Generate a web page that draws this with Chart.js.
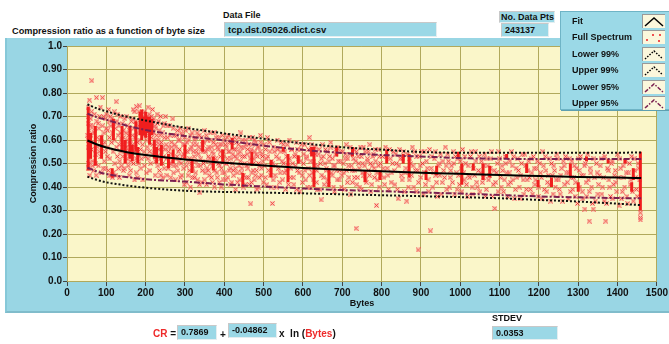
<!DOCTYPE html>
<html>
<head>
<meta charset="utf-8">
<script src="https://cdn.jsdelivr.net/npm/chart.js@4"></script>
<style>
  body { margin: 0; width: 669px; height: 344px; overflow: hidden; background: #fff; position: relative;
         font: bold 9px "Liberation Sans", Arial, sans-serif; color: #111; }
  .abs { position: absolute; white-space: nowrap; }
  .box { position: absolute; background: #9bd8e6; border-top: 1px solid #c8c8c8; border-left: 1px solid #c8c8c8;
         border-bottom: 1px solid #e4eef0; border-right: 1px solid #e4eef0; box-sizing: border-box; padding-left: 3px; }
  #panel { position: absolute; left: 5px; top: 38px; width: 664px; height: 275px; background: #99d6e4;
           border-left: 2px solid #86c8d8; border-bottom: 2px solid #80bccb; box-sizing: border-box; }
  #chart { position: absolute; left: 0; top: 0; }
  #legend { position: absolute; left: 560px; top: 11px; width: 115px; height: 99px; background: #9bd9e7;
            border: 1px solid #6fb4c6; box-shadow: 1px 1px 0 #5e9fb0; box-sizing: border-box; z-index: 2; }
  #legend .row { position: absolute; left: 11px; height: 14px; line-height: 14px; }
  #legend svg { position: absolute; left: 70px; top: 0; background: #fbf7dc; border-top: 1px solid #999; border-left: 1px solid #999; }
  .red { color: #ee2a2a; }
</style>
</head>
<body>
<div class="abs" style="left:12px; top:25px; font-size:9.2px; line-height:12px;">Compression ratio as a function of byte size</div>
<div class="abs" style="left:223px; top:9px; line-height:12px;">Data File</div>
<div class="box" style="left:224px; top:22px; width:213px; height:15px; line-height:13px; font-size:9.5px;">tcp.dst.05026.dict.csv</div>
<div class="box" style="left:499px; top:11px; width:56px; height:12px; line-height:10px; padding-left:1px;">No. Data Pts</div>
<div class="box" style="left:501px; top:23px; width:48px; height:14px; line-height:12px;">243137</div>

<div id="panel"></div>
<canvas id="chart" width="669" height="344"></canvas>

<div id="legend">
  <div class="row" style="top:2px;">Fit<svg width="22" height="13"><polyline points="2,11 11,3 20,11" fill="none" stroke="#000" stroke-width="1.5"/></svg></div>
  <div class="row" style="top:18px;">Full Spectrum<svg width="22" height="13"><g stroke="#f05050" stroke-width="1"><path d="M3,8 l2,2 M5,8 l-2,2 M9,3 l2,2 M11,3 l-2,2 M16,3 l2,2 M18,3 l-2,2 M15,9 l2,2 M17,9 l-2,2"/></g></svg></div>
  <div class="row" style="top:34.5px;">Lower 99%<svg width="22" height="13"><polyline points="2,11 11,3 20,11" fill="none" stroke="#000" stroke-width="1.5" stroke-dasharray="1.5,1.5"/></svg></div>
  <div class="row" style="top:51px;">Upper 99%<svg width="22" height="13"><polyline points="2,11 11,3 20,11" fill="none" stroke="#000" stroke-width="1.5" stroke-dasharray="1.5,1.5"/></svg></div>
  <div class="row" style="top:67.5px;">Lower 95%<svg width="22" height="13"><polyline points="2,11 11,3 20,11" fill="none" stroke="#7a2050" stroke-width="1.5" stroke-dasharray="4,1.5,1.5,1.5"/></svg></div>
  <div class="row" style="top:84px;">Upper 95%<svg width="22" height="13"><polyline points="2,11 11,3 20,11" fill="none" stroke="#7a2050" stroke-width="1.5" stroke-dasharray="4,1.5,1.5,1.5"/></svg></div>
</div>

<div class="abs red" style="left:153px; top:328px; line-height:12px; font-size:10px;">CR <span style="color:#111">=</span></div>
<div class="box" style="left:177px; top:325px; width:40px; height:15px; line-height:13px;">0.7869</div>
<div class="abs" style="left:220px; top:329px; line-height:12px; font-size:10px;">+</div>
<div class="box" style="left:228px; top:323px; width:49px; height:15px; line-height:13px;">-0.04862</div>
<div class="abs" style="left:279px; top:328px; line-height:12px; font-size:10px;">x &nbsp;ln (<span class="red">Bytes</span>)</div>
<div class="abs" style="left:492px; top:312px; line-height:12px;">STDEV</div>
<div class="box" style="left:492px; top:326px; width:66px; height:14px; line-height:12px;">0.0353</div>

<script>
// tick labels
const xTickLabels = ["0", "100", "200", "300", "400", "500", "600", "700", "800", "900", "1000", "1100", "1200", "1300", "1400", "1500"];
const yTickLabels = ["0.0", "0.10", "0.20", "0.30", "0.40", "0.50", "0.60", "0.70", "0.80", "0.90", "1.0"];
const xAxisTitle = "Bytes";
const yAxisTitle = "Compression ratio";

// fit curve and confidence bands
const bandBytes = [52, 75, 100, 150, 200, 300, 400, 500, 600, 700, 800, 900, 1000, 1100, 1200, 1300, 1400, 1460];
const fitRatio  = [0.598, 0.582, 0.568, 0.549, 0.536, 0.517, 0.503, 0.491, 0.481, 0.473, 0.467, 0.461, 0.456, 0.451, 0.447, 0.443, 0.440, 0.438];
const upper99   = [0.752, 0.735, 0.722, 0.700, 0.683, 0.652, 0.628, 0.605, 0.586, 0.569, 0.559, 0.549, 0.546, 0.546, 0.546, 0.546, 0.546, 0.547];
const upper95   = [0.712, 0.697, 0.686, 0.662, 0.643, 0.617, 0.598, 0.576, 0.558, 0.545, 0.536, 0.530, 0.523, 0.520, 0.519, 0.519, 0.519, 0.519];
const lower95   = [0.482, 0.467, 0.455, 0.443, 0.433, 0.423, 0.411, 0.402, 0.394, 0.387, 0.382, 0.377, 0.372, 0.366, 0.360, 0.356, 0.353, 0.352];
const lower99   = [0.444, 0.431, 0.420, 0.407, 0.397, 0.384, 0.379, 0.376, 0.373, 0.369, 0.365, 0.361, 0.357, 0.352, 0.345, 0.338, 0.329, 0.323];

// full spectrum samples [bytes, ratio]
const spectrum50to250 = [
  [54,0.74],[55,0.70],[54,0.67],[56,0.64],[55,0.60],[54,0.57],[56,0.53],[55,0.50],[54,0.48],[57,0.77],[58,0.45],[60,0.69],[61,0.62],[62,0.56],[63,0.852],[64,0.51],[66,0.66],[67,0.59],[68,0.47],[70,0.71],[71,0.64],[72,0.54],[73,0.50],[75,0.78],[76,0.68],[77,0.61],[78,0.57],[80,0.49],[81,0.65],[83,0.70],[84,0.60],[86,0.53],[88,0.46],[90,0.78],[90,0.66],[91,0.58],[93,0.70],[94,0.63],[95,0.51],[97,0.69],[98,0.55],[99,0.48],
  [53,0.62],[57,0.58],[59,0.66],[62,0.72],[65,0.49],[69,0.63],[74,0.45],[79,0.67],[82,0.55],[85,0.74],[87,0.61],[92,0.48],[96,0.59],
  [101,0.71],[103,0.64],[104,0.57],[105,0.47],[107,0.68],[108,0.61],[109,0.52],[110,0.70],[111,0.66],[112,0.45],[113,0.59],[114,0.69],[115,0.44],[116,0.63],[117,0.55],[118,0.46],[119,0.67],[120,0.72],[121,0.60],[122,0.50],[123,0.65],[124,0.45],[125,0.763],[126,0.57],[127,0.68],[128,0.53],[130,0.62],[131,0.48],[132,0.66],[133,0.58],[134,0.51],[135,0.70],[136,0.63],[137,0.55],[138,0.60],[139,0.49],[140,0.67],[141,0.57],[142,0.53],[143,0.64],[144,0.61],[145,0.48],[146,0.58],[147,0.69],[148,0.55],[149,0.51],
  [100,0.65],[102,0.53],[106,0.73],[109,0.45],[129,0.71],[133,0.44],[143,0.47],
  [150,0.63],[151,0.57],[152,0.52],[153,0.60],[154,0.66],[155,0.54],[156,0.49],[157,0.62],[158,0.58],[159,0.55],[160,0.64],[161,0.51],[162,0.60],[163,0.56],[164,0.68],[165,0.53],[166,0.62],[167,0.58],[168,0.73],[169,0.50],[170,0.65],[171,0.55],[172,0.43],[173,0.61],[174,0.57],[175,0.68],[176,0.52],[177,0.742],[178,0.63],[179,0.59],[180,0.44],[181,0.54],[182,0.66],[183,0.50],[184,0.745],[185,0.60],[186,0.70],[187,0.56],[188,0.67],[189,0.52],[190,0.64],[191,0.71],[192,0.58],[193,0.43],[194,0.69],[195,0.62],[196,0.55],[197,0.66],[198,0.72],[199,0.53],
  [152,0.70],[158,0.45],[162,0.47],[167,0.69],[171,0.72],[176,0.46],[183,0.72],[188,0.48],[193,0.65],[197,0.49],
  [200,0.68],[201,0.60],[202,0.64],[203,0.70],[204,0.57],[205,0.66],[206,0.52],[207,0.69],[208,0.62],[209,0.71],[210,0.55],[211,0.67],[212,0.64],[213,0.50],[214,0.70],[215,0.61],[216,0.66],[217,0.58],[218,0.68],[219,0.54],[220,0.63],[221,0.69],[222,0.56],[223,0.66],[224,0.60],[225,0.51],[226,0.65],[227,0.58],[228,0.62],[229,0.53],[230,0.67],[231,0.49],[232,0.60],[233,0.56],[234,0.64],[235,0.47],[236,0.58],[237,0.62],[238,0.52],[239,0.45],[240,0.59],[241,0.55],[242,0.63],[243,0.50],[244,0.57],[245,0.66],[246,0.53],[247,0.48],[248,0.61],[249,0.56],
  [202,0.46],[206,0.74],[211,0.47],[217,0.73],[224,0.45],[229,0.71],[233,0.68],[238,0.70],[244,0.44],[247,0.67]
];
const spectrum250to500 = [
  [251,0.70],[253,0.52],[255,0.61],[257,0.48],[259,0.57],[261,0.66],[263,0.50],[265,0.59],[267,0.54],[269,0.69],[271,0.46],[273,0.62],[275,0.52],[277,0.57],[279,0.49],[281,0.64],[283,0.55],[285,0.51],[287,0.60],[289,0.44],[291,0.63],[293,0.53],[295,0.58],[297,0.48],[299,0.61],
  [252,0.58],[254,0.45],[256,0.66],[258,0.55],[260,0.50],[262,0.62],[264,0.44],[266,0.57],[268,0.51],[270,0.65],[272,0.49],[274,0.58],[276,0.43],[278,0.62],[280,0.53],[282,0.47],[284,0.60],[286,0.56],[288,0.65],[290,0.50],[292,0.45],[294,0.62],[296,0.54],[298,0.41],
  [301,0.55],[303,0.42],[305,0.59],[307,0.51],[309,0.65],[311,0.47],[313,0.56],[315,0.62],[317,0.50],[319,0.44],[321,0.58],[323,0.53],[325,0.60],[327,0.46],[329,0.55],[331,0.63],[333,0.49],[335,0.57],[337,0.41],[338,0.376],[340,0.52],[342,0.61],[344,0.47],[346,0.55],[348,0.59],[350,0.43],[352,0.51],[354,0.62],[356,0.48],[358,0.56],[360,0.53],[362,0.45],[364,0.60],[366,0.50],[368,0.57],[370,0.42],[372,0.54],[374,0.63],[376,0.47],[378,0.58],[380,0.51],[382,0.44],[384,0.56],[386,0.61],[388,0.49],[390,0.53],[392,0.40],[394,0.58],[396,0.46],[398,0.55],
  [300,0.58],[302,0.64],[304,0.49],[306,0.55],[308,0.45],[310,0.60],[312,0.52],[314,0.40],[316,0.57],[318,0.63],[320,0.48],[322,0.55],[324,0.44],[326,0.61],[328,0.51],[330,0.58],[332,0.43],[334,0.54],[336,0.62],[339,0.49],[341,0.56],[343,0.42],[345,0.58],[347,0.50],[349,0.64],[351,0.46],[353,0.55],[355,0.41],[357,0.60],[359,0.47],[361,0.57],[363,0.52],[365,0.63],[367,0.44],[369,0.55],[371,0.49],[373,0.59],[375,0.40],[377,0.52],[379,0.61],[381,0.46],[383,0.57],[385,0.50],[387,0.42],[389,0.58],[391,0.55],[393,0.48],[395,0.62],[397,0.43],[399,0.53],
  [400,0.60],[402,0.50],[404,0.43],[406,0.57],[408,0.52],[410,0.62],[412,0.47],[414,0.55],[416,0.41],[418,0.59],[420,0.50],[422,0.54],[424,0.45],[426,0.61],[428,0.48],[430,0.56],[432,0.52],[434,0.42],[436,0.58],[438,0.49],[440,0.55],[442,0.63],[444,0.46],[446,0.53],[448,0.40],[450,0.57],[452,0.50],[454,0.60],[456,0.44],[458,0.54],[460,0.48],[462,0.58],[464,0.41],[466,0.52],[467,0.328],[468,0.56],[470,0.46],[472,0.61],[474,0.50],[476,0.43],[478,0.55],[480,0.59],[482,0.47],[484,0.53],[486,0.40],[488,0.57],[490,0.49],[492,0.62],[494,0.45],[496,0.54],[498,0.51],
  [401,0.46],[403,0.58],[405,0.50],[407,0.61],[409,0.44],[411,0.55],[413,0.59],[415,0.48],[417,0.52],[419,0.42],[421,0.60],[423,0.47],[425,0.56],[427,0.53],[429,0.39],[431,0.59],[433,0.46],[435,0.54],[437,0.61],[439,0.43],[441,0.51],[443,0.57],[445,0.48],[447,0.60],[449,0.45],[451,0.53],[453,0.41],[455,0.58],[457,0.49],[459,0.56],[461,0.44],[463,0.61],[465,0.50],[467,0.55],[469,0.42],[471,0.58],[473,0.47],[475,0.52],[477,0.60],[479,0.45],[481,0.54],[483,0.39],[485,0.57],[487,0.50],[489,0.44],[491,0.55],[493,0.59],[495,0.48],[497,0.53],[499,0.42]
];
const spectrum500to800 = [
  [501,0.58],[504,0.44],[507,0.52],[510,0.61],[513,0.47],[516,0.55],[519,0.40],[522,0.33],[523,0.50],[526,0.57],[529,0.45],[532,0.53],[535,0.60],[538,0.48],[541,0.42],[544,0.55],[547,0.51],[550,0.58],[553,0.46],[556,0.39],[559,0.53],[562,0.49],[565,0.60],[568,0.44],[571,0.56],[574,0.50],[577,0.41],[580,0.54],[583,0.59],[586,0.47],[589,0.52],[592,0.38],[595,0.56],[598,0.45],
  [502,0.49],[505,0.56],[508,0.41],[511,0.53],[514,0.59],[517,0.45],[520,0.51],[524,0.43],[527,0.55],[530,0.49],[533,0.40],[536,0.56],[539,0.52],[542,0.46],[545,0.59],[548,0.43],[551,0.50],[554,0.55],[557,0.47],[560,0.58],[563,0.41],[566,0.52],[569,0.48],[572,0.56],[575,0.44],[578,0.53],[581,0.49],[584,0.39],[587,0.56],[590,0.46],[593,0.51],[596,0.58],[599,0.42],
  [601,0.50],[604,0.58],[607,0.43],[610,0.53],[613,0.48],[616,0.61],[619,0.40],[622,0.55],[625,0.46],[628,0.51],[631,0.57],[634,0.42],[637,0.49],[640,0.54],[643,0.39],[646,0.345],[647,0.52],[650,0.58],[653,0.44],[656,0.50],[659,0.47],[662,0.55],[665,0.41],[668,0.53],[671,0.59],[674,0.45],[677,0.49],[680,0.38],[683,0.54],[686,0.47],[689,0.57],[692,0.43],[695,0.51],[698,0.40],
  [602,0.54],[605,0.47],[608,0.52],[611,0.40],[614,0.56],[617,0.45],[620,0.51],[623,0.58],[626,0.43],[629,0.49],[632,0.54],[635,0.47],[638,0.39],[641,0.56],[644,0.50],[648,0.45],[651,0.53],[654,0.41],[657,0.56],[660,0.48],[663,0.43],[666,0.51],[669,0.57],[672,0.46],[675,0.52],[678,0.40],[681,0.49],[684,0.56],[687,0.43],[690,0.51],[693,0.47],[696,0.55],[699,0.45],
  [701,0.55],[704,0.46],[707,0.52],[710,0.58],[713,0.42],[716,0.49],[719,0.54],[722,0.37],[725,0.47],[728,0.56],[731,0.44],[734,0.51],[735,0.224],[737,0.41],[740,0.53],[743,0.48],[746,0.57],[749,0.39],[752,0.50],[755,0.45],[758,0.55],[761,0.42],[764,0.52],[767,0.47],[770,0.58],[773,0.38],[776,0.49],[779,0.54],[782,0.44],[785,0.51],[787,0.322],[788,0.46],[791,0.56],[794,0.40],[797,0.50],
  [702,0.50],[705,0.39],[708,0.54],[711,0.47],[714,0.52],[717,0.44],[720,0.57],[723,0.49],[726,0.42],[729,0.52],[732,0.47],[736,0.55],[739,0.44],[742,0.50],[745,0.40],[748,0.53],[751,0.46],[754,0.57],[757,0.49],[760,0.43],[763,0.51],[766,0.55],[769,0.45],[772,0.50],[775,0.41],[778,0.53],[781,0.48],[784,0.56],[789,0.43],[792,0.49],[795,0.53],[798,0.45]
];
const spectrum800to1100 = [
  [802,0.53],[806,0.44],[810,0.57],[814,0.48],[818,0.39],[822,0.52],[826,0.46],[830,0.55],[834,0.41],[838,0.50],[842,0.35],[846,0.56],[850,0.45],[854,0.52],[858,0.38],[862,0.48],[864,0.34],[866,0.54],[870,0.43],[874,0.50],[878,0.57],[882,0.40],[886,0.47],[890,0.53],[893,0.132],[894,0.42],[898,0.49],
  [804,0.48],[808,0.41],[812,0.53],[816,0.45],[820,0.56],[824,0.42],[828,0.50],[832,0.47],[836,0.54],[840,0.39],[844,0.49],[848,0.52],[852,0.43],[856,0.55],[860,0.46],[868,0.40],[872,0.52],[876,0.45],[880,0.49],[884,0.55],[888,0.38],[892,0.47],[896,0.53],
  [902,0.55],[906,0.37],[910,0.46],[914,0.51],[918,0.43],[922,0.56],[924,0.213],[926,0.48],[930,0.40],[934,0.52],[938,0.45],[942,0.36],[946,0.50],[950,0.54],[954,0.42],[958,0.47],[962,0.57],[966,0.39],[970,0.51],[974,0.44],[978,0.49],[982,0.55],[986,0.37],[990,0.46],[994,0.52],[998,0.41],
  [900,0.44],[904,0.50],[908,0.55],[912,0.41],[916,0.48],[920,0.38],[928,0.53],[932,0.46],[936,0.55],[940,0.42],[944,0.49],[948,0.45],[952,0.37],[956,0.51],[960,0.44],[964,0.49],[968,0.54],[972,0.40],[976,0.47],[980,0.42],[984,0.50],[988,0.53],[992,0.39],[996,0.45],
  [1002,0.48],[1006,0.56],[1010,0.43],[1014,0.50],[1018,0.36],[1022,0.45],[1026,0.53],[1030,0.40],[1034,0.48],[1038,0.55],[1042,0.42],[1046,0.47],[1050,0.38],[1054,0.51],[1058,0.44],[1062,0.54],[1066,0.39],[1070,0.49],[1074,0.45],[1078,0.52],[1082,0.36],[1086,0.47],[1088,0.309],[1090,0.42],[1094,0.50],[1098,0.55],
  [1000,0.51],[1004,0.38],[1008,0.46],[1012,0.53],[1016,0.41],[1020,0.49],[1024,0.44],[1028,0.55],[1032,0.37],[1036,0.45],[1040,0.51],[1044,0.40],[1048,0.53],[1052,0.46],[1056,0.42],[1060,0.49],[1064,0.36],[1068,0.52],[1072,0.43],[1076,0.48],[1080,0.55],[1084,0.41],[1092,0.46],[1096,0.38]
];
const spectrum1100to1460 = [
  [1102,0.44],[1106,0.49],[1110,0.38],[1114,0.53],[1118,0.46],[1122,0.41],[1126,0.51],[1130,0.55],[1134,0.43],[1138,0.35],[1142,0.48],[1146,0.52],[1150,0.40],[1154,0.45],[1158,0.54],[1162,0.37],[1166,0.49],[1170,0.43],[1174,0.51],[1178,0.39],[1182,0.46],[1186,0.53],[1190,0.41],[1194,0.48],[1198,0.36],
  [1100,0.52],[1104,0.40],[1108,0.47],[1112,0.43],[1116,0.50],[1120,0.36],[1124,0.46],[1128,0.42],[1132,0.49],[1136,0.53],[1140,0.39],[1144,0.44],[1148,0.47],[1152,0.35],[1156,0.50],[1160,0.43],[1164,0.54],[1168,0.39],[1172,0.47],[1176,0.44],[1180,0.52],[1184,0.37],[1188,0.48],[1192,0.43],[1196,0.51],
  [1202,0.50],[1206,0.44],[1210,0.55],[1214,0.39],[1218,0.47],[1222,0.42],[1226,0.52],[1230,0.34],[1234,0.45],[1238,0.49],[1242,0.40],[1246,0.54],[1250,0.43],[1254,0.37],[1258,0.48],[1262,0.51],[1266,0.41],[1270,0.46],[1274,0.35],[1278,0.52],[1282,0.44],[1286,0.39],[1290,0.49],[1294,0.42],[1298,0.33],
  [1200,0.40],[1204,0.46],[1208,0.35],[1212,0.49],[1216,0.53],[1220,0.38],[1224,0.45],[1228,0.41],[1232,0.50],[1236,0.37],[1240,0.47],[1244,0.43],[1248,0.52],[1252,0.39],[1256,0.45],[1260,0.34],[1264,0.49],[1268,0.53],[1272,0.42],[1276,0.46],[1280,0.38],[1284,0.51],[1288,0.44],[1292,0.36],[1296,0.48],
  [1302,0.47],[1306,0.53],[1310,0.38],[1314,0.45],[1317,0.306],[1318,0.50],[1322,0.36],[1326,0.43],[1328,0.255],[1330,0.48],[1334,0.40],[1338,0.306],[1340,0.52],[1344,0.34],[1348,0.46],[1352,0.41],[1356,0.49],[1360,0.37],[1364,0.44],[1368,0.53],[1370,0.255],[1372,0.33],[1376,0.47],[1380,0.40],[1384,0.50],[1388,0.35],[1392,0.45],[1396,0.42],
  [1300,0.52],[1304,0.40],[1308,0.45],[1312,0.35],[1316,0.49],[1320,0.42],[1324,0.54],[1328,0.38],[1332,0.46],[1336,0.33],[1342,0.44],[1346,0.50],[1350,0.37],[1354,0.45],[1358,0.52],[1362,0.40],[1366,0.34],[1374,0.48],[1378,0.43],[1382,0.36],[1386,0.51],[1390,0.41],[1394,0.47],[1398,0.38],
  [1400,0.54],[1404,0.32],[1408,0.48],[1412,0.38],[1416,0.44],[1420,0.51],[1424,0.36],[1428,0.46],[1432,0.41],[1436,0.53],[1440,0.34],[1444,0.47],[1448,0.39],[1452,0.50],[1456,0.43],[1458,0.29],[1458,0.27],[1458,0.26],
  [1402,0.44],[1406,0.52],[1410,0.35],[1414,0.49],[1418,0.40],[1422,0.46],[1426,0.33],[1430,0.50],[1434,0.43],[1438,0.38],[1442,0.52],[1446,0.44],[1450,0.36],[1454,0.48]
];

// dense columns where many samples share one byte size: [bytes, lowRatio, highRatio]
const denseColumns = [
  [54,0.47,0.74],[60,0.52,0.63],[72,0.49,0.66],[88,0.52,0.62],[115,0.44,0.48],[118,0.60,0.69],[140,0.55,0.66],[148,0.50,0.60],
  [160,0.52,0.66],[166,0.51,0.58],[175,0.55,0.68],[180,0.50,0.57],[186,0.62,0.72],[190,0.60,0.73],[195,0.62,0.70],[200,0.61,0.72],
  [205,0.63,0.70],[210,0.58,0.70],[216,0.62,0.69],[222,0.52,0.60],[228,0.50,0.57],[240,0.49,0.58],[258,0.48,0.54],[270,0.50,0.56],
  [300,0.52,0.58],[318,0.46,0.52],[345,0.55,0.60],[372,0.47,0.53],[396,0.50,0.56],[420,0.56,0.61],[447,0.40,0.46],[470,0.49,0.55],
  [519,0.44,0.515],[550,0.55,0.57],[562,0.42,0.54],[588,0.50,0.535],[622,0.53,0.57],[628,0.40,0.57],[666,0.40,0.48],[686,0.53,0.57],
  [726,0.53,0.57],[758,0.42,0.47],[796,0.43,0.47],[813,0.50,0.56],[855,0.50,0.54],[870,0.44,0.54],[913,0.43,0.47],[940,0.45,0.49],
  [995,0.52,0.55],[1004,0.41,0.50],[1033,0.47,0.50],[1058,0.43,0.50],[1075,0.44,0.49],[1118,0.52,0.54],[1169,0.46,0.50],[1198,0.40,0.43],
  [1232,0.40,0.44],[1280,0.44,0.50],[1300,0.38,0.42],[1321,0.51,0.53],[1376,0.50,0.52],[1419,0.50,0.52],[1436,0.38,0.42],[1440,0.43,0.48],
  [1458,0.30,0.55]
];

const spectrum = [...spectrum50to250, ...spectrum250to500, ...spectrum500to800, ...spectrum800to1100, ...spectrum1100to1460];
const curve = (vals) => bandBytes.map((x, i) => ({ x: x, y: vals[i] }));
const columns = denseColumns.flatMap(([x, lo, hi]) => [{ x: x, y: lo }, { x: x, y: hi }, { x: x, y: null }]);

// sample marker: small red x on a faint pink square
const marker = document.createElement("canvas");
marker.width = 5;
marker.height = 5;
(function () {
  const c = marker.getContext("2d");
  c.fillStyle = "rgba(248,160,160,0.4)";
  c.fillRect(0, 0, 5, 5);
  c.strokeStyle = "rgba(238,40,40,0.85)";
  c.lineWidth = 1;
  c.beginPath();
  c.moveTo(0.5, 0.5); c.lineTo(4.5, 4.5);
  c.moveTo(4.5, 0.5); c.lineTo(0.5, 4.5);
  c.stroke();
})();

// yellow plot area
const plotBackground = {
  id: "plotBackground",
  beforeDraw(chart) {
    const { ctx, chartArea: a } = chart;
    ctx.save();
    ctx.fillStyle = "#faf6c9";
    ctx.fillRect(a.left, a.top, a.width, a.height);
    ctx.restore();
  },
};

const tickFont = { family: "Liberation Sans", size: 10, weight: "bold" };
const titleFont = { family: "Liberation Sans", size: 9, weight: "bold" };

new Chart(document.getElementById("chart"), {
  type: "scatter",
  data: {
    datasets: [
      { label: "Fit", type: "line", data: curve(fitRatio), borderColor: "#000", borderWidth: 2,
        pointRadius: 0, cubicInterpolationMode: "monotone", order: 0 },
      { label: "Lower 99%", type: "line", data: curve(lower99), borderColor: "#111", borderWidth: 2,
        borderDash: [2, 2], pointRadius: 0, cubicInterpolationMode: "monotone", order: 1 },
      { label: "Upper 99%", type: "line", data: curve(upper99), borderColor: "#111", borderWidth: 2,
        borderDash: [2, 2], pointRadius: 0, cubicInterpolationMode: "monotone", order: 1 },
      { label: "Lower 95%", type: "line", data: curve(lower95), borderColor: "#7a2050", borderWidth: 2,
        borderDash: [6, 2, 2, 2], pointRadius: 0, cubicInterpolationMode: "monotone", order: 1 },
      { label: "Upper 95%", type: "line", data: curve(upper95), borderColor: "#7a2050", borderWidth: 2,
        borderDash: [6, 2, 2, 2], pointRadius: 0, cubicInterpolationMode: "monotone", order: 1 },
      { label: "Full Spectrum columns", type: "line", data: columns, borderColor: "#f01e1e", borderWidth: 3,
        borderCapStyle: "butt", pointRadius: 0, spanGaps: false, order: 2 },
      { label: "Full Spectrum", data: spectrum, pointStyle: marker, pointRadius: 2.5, order: 3 },
    ],
  },
  options: {
    responsive: false,
    animation: false,
    devicePixelRatio: 1,
    layout: { padding: { left: 20, right: 12, top: 46, bottom: 31 } },
    plugins: { legend: { display: false }, tooltip: { enabled: false } },
    scales: {
      x: {
        type: "linear", min: 0, max: 1500, offset: false,
        afterFit: (s) => { s.height = 32; },
        ticks: { stepSize: 100, font: tickFont, color: "#111", padding: 1, maxRotation: 0, autoSkip: false,
                 callback: (value, index) => xTickLabels[index] },
        grid: { color: "#b0a95c", tickLength: 5, tickColor: "#444", offset: false },
        border: { display: false },
        title: { display: true, text: xAxisTitle, font: titleFont, color: "#111", padding: { top: 0, bottom: 4 } },
      },
      y: {
        min: 0, max: 1,
        afterFit: (s) => { s.width = 47; },
        ticks: { stepSize: 0.1, font: tickFont, color: "#111", padding: 1,
                 callback: (value, index) => yTickLabels[index] },
        grid: { color: "#b0a95c", tickLength: 4, tickColor: "#444" },
        border: { display: false },
        title: { display: true, text: yAxisTitle, font: titleFont, color: "#111", padding: { top: 8, bottom: 0 } },
      },
    },
  },
  plugins: [plotBackground],
});
</script>
</body>
</html>
